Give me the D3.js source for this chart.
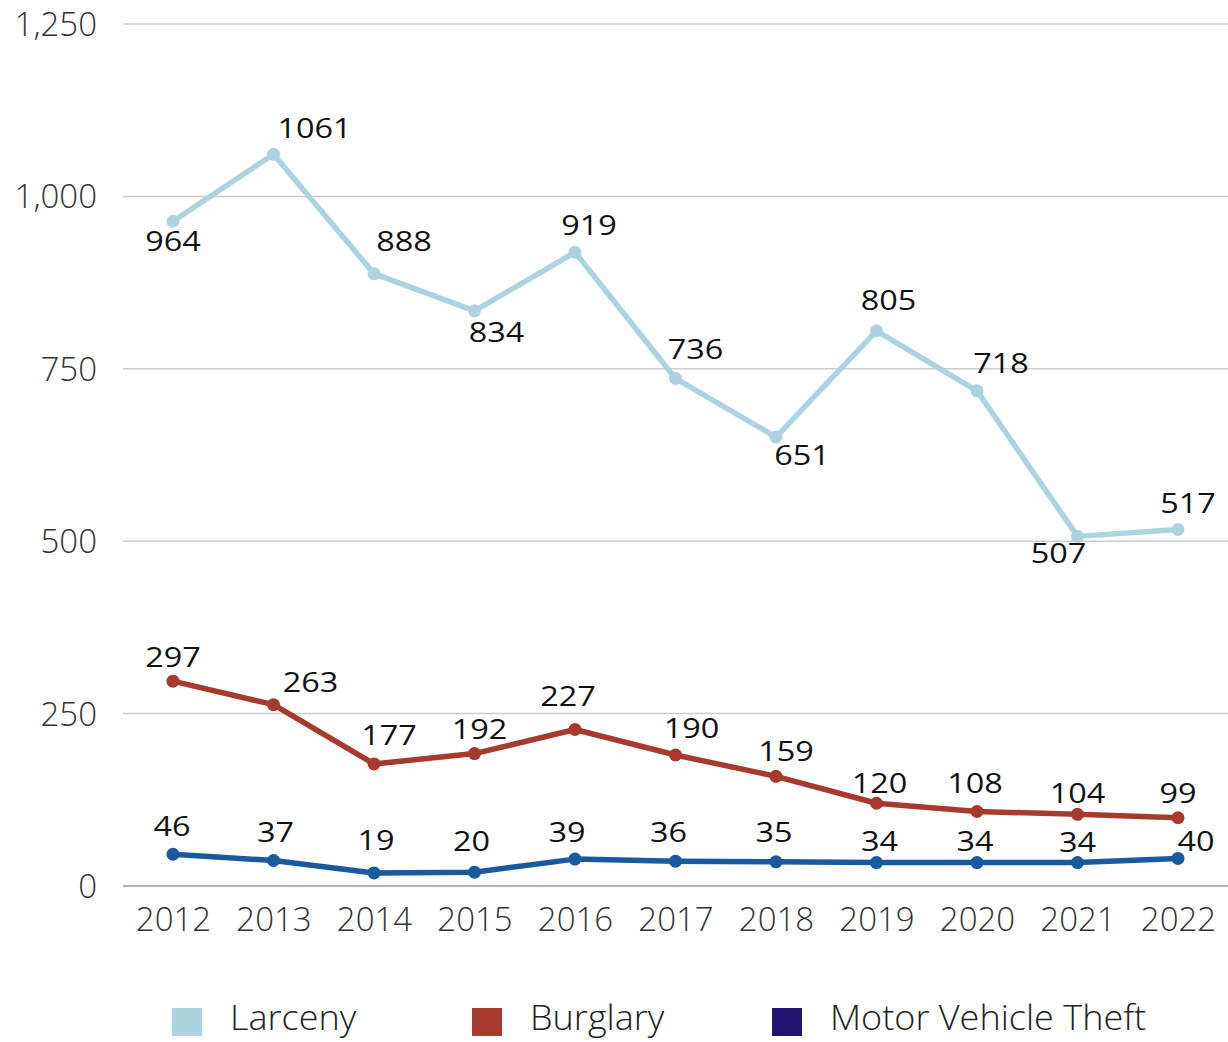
<!DOCTYPE html>
<html><head><meta charset="utf-8">
<script src="https://cdn.jsdelivr.net/npm/d3@7"></script>
<style>body{margin:0;background:#fff;}svg{display:block;font-family:"Open Sans",sans-serif;}</style>
</head><body><svg id="c" width="1228" height="1042"></svg>
<script>
const years = [2012,2013,2014,2015,2016,2017,2018,2019,2020,2021,2022];
const larceny = [964,1061,888,834,919,736,651,805,718,507,517];
const burglary = [297,263,177,192,227,190,159,120,108,104,99];
const motorVehicleTheft = [46,37,19,20,39,36,35,34,34,34,40];
const yTicks = [0,250,500,750,1000,1250];
const seriesNames = ["Larceny","Burglary","Motor Vehicle Theft"];

// label nudges (layout only, px)
const larcenyNudge = [[0,19],[41,-27],[30,-33],[22,21],[14,-28],[20,-30],[26,18],[12,-31],[24,-28],[-19,16],[10,-27]];
const burglaryNudge = [[0,-25],[37,-23],[15,-29],[5,-25],[-7,-34],[16,-27],[10,-26],[3,-21],[-2,-29],[0,-22],[0,-25]];
const mvtNudge = [[-1,-29],[2,-29],[2,-33],[-3,-32],[-8,-28],[-7,-30],[-2,-30],[3,-22],[-2,-22],[0,-21],[18,-18]];

const svg = d3.select("#c");
const x = d3.scalePoint().domain(years).range([173,1178]);
const y = d3.scaleLinear().domain([0,1250]).range([886,24]);

// grid
svg.append("g").selectAll("line").data(yTicks).join("line")
  .attr("x1",123).attr("x2",1228).attr("y1",d=>y(d)).attr("y2",d=>y(d))
  .attr("stroke",d=>d===0?"#999":"#ccc").attr("stroke-width",1.5);

// y axis labels
const yAxis = d3.axisLeft(y).tickValues(yTicks).tickFormat(d3.format(",")).tickSize(0).tickPadding(0);
const ya = svg.append("g").attr("transform","translate(97,1)").call(yAxis);
ya.select(".domain").remove();
ya.selectAll("text").attr("font-size",33).attr("font-weight",300).attr("fill","#333").attr("font-family","Open Sans");

// x axis labels
const xAxis = d3.axisBottom(x).tickSize(0).tickPadding(0).tickFormat(d3.format("d"));
const xa = svg.append("g").attr("transform","translate(0,908)").call(xAxis);
xa.select(".domain").remove();
xa.selectAll("text").attr("font-size",33).attr("font-weight",300).attr("fill","#333").attr("font-family","Open Sans");

const series = [
  {name:seriesNames[0], values:larceny, color:"#aed3e0", legend:"#aed3e0", nudge:larcenyNudge},
  {name:seriesNames[1], values:burglary, color:"#a63a2c", legend:"#a63a2c", nudge:burglaryNudge},
  {name:seriesNames[2], values:motorVehicleTheft, color:"#185a9d", legend:"#221470", nudge:mvtNudge}
];
const line = d3.line().x((d,i)=>x(years[i])).y(d=>y(d));
series.forEach(s=>{
  const g = svg.append("g");
  g.append("path").attr("d",line(s.values)).attr("fill","none").attr("stroke",s.color).attr("stroke-width",5.5).attr("stroke-linejoin","round");
  g.selectAll("circle").data(s.values).join("circle")
    .attr("cx",(d,i)=>x(years[i])).attr("cy",d=>y(d)).attr("r",6.5).attr("fill",s.color);
  g.selectAll("text").data(s.values).join("text")
    .attr("transform",(d,i)=>`translate(${x(years[i])+s.nudge[i][0]},${y(d)+s.nudge[i][1]}) scale(1.2,1)`)
    .attr("text-anchor","middle").attr("dominant-baseline","central")
    .attr("font-size",27).attr("fill","#111").text(d=>d);
});

// legend
const legendX = [172,472,772];
const lg = svg.append("g");
series.forEach((s,i)=>{
  lg.append("rect").attr("x",legendX[i]).attr("y",1008).attr("width",30).attr("height",28).attr("fill",s.legend);
  lg.append("text").attr("x",legendX[i]+58).attr("y",1030)
    .attr("font-size",35).attr("font-weight",300).attr("fill","#222")
    .attr("transform",`translate(${legendX[i]+58},0) scale(1.03,1) translate(${-(legendX[i]+58)},0)`)
    .text(s.name);
});
</script></body></html>
